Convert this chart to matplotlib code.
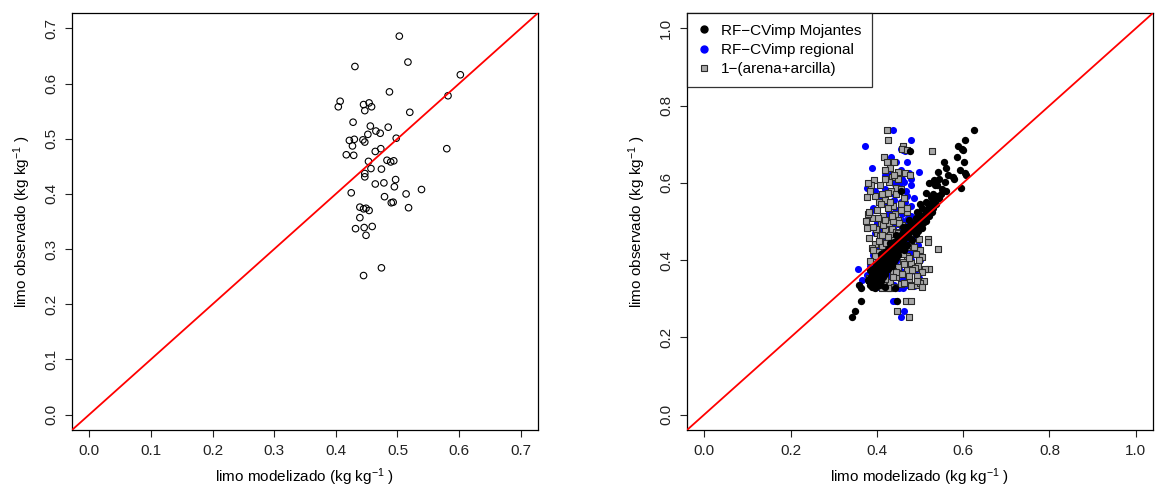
import matplotlib
matplotlib.use("Agg")
import matplotlib.pyplot as plt
from matplotlib.lines import Line2D

plt.rcParams['font.family'] = ['Liberation Sans', 'DejaVu Sans']
plt.rcParams['mathtext.default'] = 'regular'

# ---- Left panel: single model ----
left_x = [0.503, 0.517, 0.431, 0.602, 0.487, 0.582, 0.407, 0.404, 0.445, 0.454,
          0.458, 0.447, 0.520, 0.428, 0.456, 0.485, 0.465, 0.472, 0.452, 0.498,
          0.422, 0.430, 0.444, 0.447, 0.427, 0.473, 0.464, 0.580, 0.417, 0.429,
          0.483, 0.494, 0.489, 0.453, 0.457, 0.474, 0.447, 0.447, 0.497, 0.464,
          0.478, 0.495, 0.425, 0.514, 0.539, 0.479, 0.490, 0.493, 0.439, 0.445,
          0.449, 0.454, 0.518, 0.439, 0.432, 0.446, 0.459, 0.449, 0.474, 0.445]
left_y = [0.686, 0.639, 0.631, 0.616, 0.585, 0.578, 0.568, 0.558, 0.562, 0.565,
          0.558, 0.551, 0.548, 0.530, 0.523, 0.521, 0.514, 0.510, 0.508, 0.501,
          0.497, 0.499, 0.498, 0.494, 0.487, 0.482, 0.477, 0.482, 0.471, 0.470,
          0.461, 0.460, 0.458, 0.459, 0.446, 0.445, 0.437, 0.431, 0.426, 0.418,
          0.420, 0.413, 0.402, 0.400, 0.408, 0.395, 0.384, 0.385, 0.376, 0.373,
          0.374, 0.370, 0.375, 0.357, 0.337, 0.339, 0.341, 0.325, 0.266, 0.252]

# ---- Right panel: observed values shared by three predictions ----
y_obs = [0.252, 0.267, 0.294, 0.294, 0.327, 0.336, 0.327, 0.348, 0.376, 0.430,
         0.738, 0.712, 0.695, 0.689, 0.684, 0.682, 0.667, 0.655, 0.654, 0.639,
         0.633, 0.629, 0.626, 0.620, 0.615, 0.609, 0.607, 0.602, 0.594, 0.587,
         0.579, 0.564, 0.560, 0.555, 0.550, 0.545, 0.540, 0.535, 0.530, 0.525,
         0.520, 0.515, 0.510, 0.505, 0.500, 0.497, 0.494, 0.490, 0.487, 0.484,
         0.480, 0.477, 0.474, 0.471, 0.468, 0.465, 0.462, 0.458, 0.455, 0.452,
         0.449, 0.446, 0.443, 0.440, 0.437, 0.434, 0.431, 0.428, 0.425, 0.422,
         0.419, 0.416, 0.413, 0.410, 0.407, 0.404, 0.401, 0.398, 0.395, 0.392,
         0.389, 0.386, 0.383, 0.380, 0.377, 0.374, 0.371, 0.368, 0.365, 0.362,
         0.359, 0.356, 0.353, 0.350, 0.347, 0.344, 0.341, 0.338, 0.335, 0.332,
         0.330, 0.328, 0.570, 0.570, 0.550, 0.530, 0.520, 0.510, 0.500, 0.490,
         0.480, 0.470, 0.460, 0.450, 0.440, 0.430, 0.420, 0.410, 0.400, 0.390,
         0.380, 0.370, 0.360, 0.350, 0.340, 0.330, 0.335, 0.345, 0.355, 0.365,
         0.375, 0.385, 0.395, 0.405, 0.415, 0.425, 0.435, 0.445, 0.455, 0.465,
         0.475, 0.485, 0.495, 0.505, 0.515, 0.525, 0.535, 0.545, 0.565, 0.575,
         0.585, 0.595, 0.600, 0.610, 0.620, 0.580]

x_mojantes = [0.342, 0.349, 0.363, 0.446, 0.363, 0.358, 0.395, 0.380, 0.392, 0.440,
              0.624, 0.604, 0.587, 0.598, 0.600, 0.477, 0.586, 0.556, 0.601, 0.560,
              0.593, 0.542, 0.604, 0.606, 0.576, 0.579, 0.533, 0.558, 0.540, 0.596,
              0.560, 0.525, 0.545, 0.530, 0.515, 0.538, 0.520, 0.505, 0.512, 0.528,
              0.498, 0.508, 0.490, 0.500, 0.515, 0.485, 0.478, 0.492, 0.470, 0.505,
              0.465, 0.483, 0.460, 0.475, 0.490, 0.455, 0.470, 0.448, 0.463, 0.482,
              0.452, 0.440, 0.458, 0.470, 0.435, 0.450, 0.428, 0.445, 0.462, 0.420,
              0.438, 0.425, 0.448, 0.415, 0.432, 0.410, 0.428, 0.440, 0.405, 0.420,
              0.398, 0.435, 0.412, 0.395, 0.425, 0.402, 0.390, 0.415, 0.398, 0.388,
              0.405, 0.392, 0.385, 0.400, 0.382, 0.395, 0.388, 0.408, 0.383, 0.398,
              0.420, 0.442, 0.548, 0.530, 0.528, 0.520, 0.515, 0.505, 0.495, 0.485,
              0.478, 0.468, 0.462, 0.455, 0.448, 0.440, 0.432, 0.425, 0.420, 0.412,
              0.405, 0.400, 0.395, 0.390, 0.392, 0.388, 0.405, 0.410, 0.415, 0.420,
              0.385, 0.430, 0.425, 0.445, 0.410, 0.452, 0.465, 0.430, 0.478, 0.445,
              0.495, 0.460, 0.508, 0.475, 0.522, 0.492, 0.530, 0.500, 0.540, 0.515,
              0.550, 0.535, 0.520, 0.545, 0.565, 0.455]

x_regional = [0.455, 0.463, 0.437, 0.441, 0.452, 0.470, 0.410, 0.365, 0.357, 0.470,
              0.437, 0.479, 0.372, 0.455, 0.460, 0.465, 0.433, 0.471, 0.445, 0.389,
              0.455, 0.497, 0.475, 0.420, 0.440, 0.480, 0.430, 0.462, 0.452, 0.377,
              0.468, 0.410, 0.485, 0.440, 0.465, 0.420, 0.478, 0.392, 0.445, 0.385,
              0.458, 0.430, 0.472, 0.418, 0.460, 0.400, 0.448, 0.482, 0.425, 0.438,
              0.470, 0.412, 0.455, 0.395, 0.468, 0.432, 0.490, 0.420, 0.445, 0.475,
              0.405, 0.458, 0.430, 0.495, 0.418, 0.448, 0.400, 0.462, 0.427, 0.482,
              0.410, 0.452, 0.390, 0.440, 0.470, 0.422, 0.500, 0.445, 0.405, 0.460,
              0.430, 0.385, 0.475, 0.412, 0.452, 0.395, 0.488, 0.425, 0.440, 0.378,
              0.465, 0.418, 0.498, 0.430, 0.455, 0.392, 0.470, 0.420, 0.440, 0.485,
              0.405, 0.460, 0.445, 0.420, 0.455, 0.470, 0.440, 0.415, 0.452, 0.438,
              0.460, 0.425, 0.445, 0.480, 0.415, 0.438, 0.455, 0.425, 0.478, 0.440,
              0.418, 0.460, 0.432, 0.410, 0.475, 0.452, 0.430, 0.395, 0.462, 0.405,
              0.480, 0.425, 0.465, 0.400, 0.445, 0.418, 0.472, 0.435, 0.455, 0.490,
              0.440, 0.418, 0.465, 0.402, 0.478, 0.428, 0.455, 0.415, 0.470, 0.435,
              0.420, 0.480, 0.440, 0.458, 0.430, 0.395]

x_arena_arcilla = [0.475, 0.447, 0.467, 0.480, 0.431, 0.490, 0.412, 0.382, 0.520, 0.542,
                   0.423, 0.426, 0.461, 0.458, 0.470, 0.528, 0.416, 0.424, 0.440, 0.430,
                   0.418, 0.450, 0.465, 0.477, 0.435, 0.448, 0.393, 0.428, 0.386, 0.445,
                   0.432, 0.378, 0.463, 0.420, 0.405, 0.455, 0.437, 0.425, 0.400, 0.470,
                   0.442, 0.415, 0.392, 0.450, 0.374, 0.428, 0.410, 0.458, 0.385, 0.377,
                   0.436, 0.420, 0.445, 0.400, 0.462, 0.430, 0.408, 0.382, 0.518, 0.440,
                   0.425, 0.518, 0.395, 0.455, 0.412, 0.470, 0.388, 0.432, 0.500, 0.403,
                   0.448, 0.490, 0.418, 0.395, 0.505, 0.440, 0.498, 0.385, 0.460, 0.480,
                   0.413, 0.495, 0.450, 0.428, 0.512, 0.470, 0.438, 0.505, 0.458, 0.420,
                   0.492, 0.445, 0.382, 0.475, 0.510, 0.430, 0.500, 0.455, 0.395, 0.480,
                   0.440, 0.425, 0.412, 0.445, 0.430, 0.455, 0.380, 0.402, 0.438, 0.415,
                   0.398, 0.450, 0.425, 0.405, 0.478, 0.445, 0.418, 0.470, 0.432, 0.462,
                   0.488, 0.445, 0.475, 0.420, 0.462, 0.505, 0.415, 0.492, 0.437, 0.400,
                   0.482, 0.435, 0.408, 0.475, 0.460, 0.392, 0.485, 0.422, 0.498, 0.412,
                   0.467, 0.390, 0.452, 0.418, 0.435, 0.382, 0.470, 0.410, 0.395, 0.425,
                   0.455, 0.408, 0.380, 0.420, 0.440, 0.385]

n = min(len(y_obs), len(x_mojantes), len(x_regional), len(x_arena_arcilla))

series_labels = ["RF\u2212CVimp Mojantes", "RF\u2212CVimp regional", "1\u2212(arena+arcilla)"]
left_ticks = [0.0, 0.1, 0.2, 0.3, 0.4, 0.5, 0.6, 0.7]
right_ticks = [0.0, 0.2, 0.4, 0.6, 0.8, 1.0]
xlabel = "limo modelizado (kg kg$^{-1}$ )"
ylabel = "limo observado (kg kg$^{-1}$ )"

FS = 11
fig = plt.figure(figsize=(11.55, 4.86), dpi=100)

def style(ax, ticks, lim):
    ax.set_xlim(*lim)
    ax.set_ylim(*lim)
    ax.set_xticks(ticks)
    ax.set_yticks(ticks)
    ax.set_xticklabels([f"{t:.1f}" for t in ticks], fontsize=FS)
    ax.set_yticklabels([f"{t:.1f}" for t in ticks], fontsize=FS, rotation=90, va='center')
    ax.tick_params(direction='out', length=5, width=0.8, pad=5, colors='#222222')
    for s in ax.spines.values():
        s.set_linewidth(0.9)
        s.set_color('black')
    ax.set_xlabel(xlabel, fontsize=FS, labelpad=6)
    ax.set_ylabel(ylabel, fontsize=FS, labelpad=8)
    ax.plot(lim, lim, color='red', lw=1.3, zorder=5)

ax1 = fig.add_axes([72/1155, 1 - 430/486, 466/1155, 417/486])
ax1.scatter(left_x, left_y, s=22, facecolors='none', edgecolors='black', linewidths=0.8, zorder=3)
style(ax1, left_ticks, (-0.028, 0.728))

ax2 = fig.add_axes([687/1155, 1 - 430/486, 466/1155, 417/486])
ax2.scatter(x_regional[:n], y_obs[:n], s=26, color='#0000ff', linewidths=0, zorder=2)
ax2.scatter(x_arena_arcilla[:n], y_obs[:n], s=20, marker='s', facecolors='#a8a8a8',
            edgecolors='#2a2a2a', linewidths=0.8, zorder=3)
ax2.scatter(x_mojantes[:n], y_obs[:n], s=28, color='black', linewidths=0, zorder=4)
style(ax2, right_ticks, (-0.04, 1.04))

handles = [Line2D([], [], marker='o', ls='none', color='black', markersize=5),
           Line2D([], [], marker='o', ls='none', color='#0000ff', markersize=5),
           Line2D([], [], marker='s', ls='none', markerfacecolor='#a8a8a8',
                  markeredgecolor='#2a2a2a', markersize=4.5, markeredgewidth=0.8)]
leg = ax2.legend(handles, series_labels, loc='upper left', fontsize=FS, frameon=True,
                 fancybox=False, borderaxespad=0, handlelength=0.8, handletextpad=0.7,
                 labelspacing=0.35, borderpad=0.7)
leg.get_frame().set_edgecolor('black')
leg.get_frame().set_linewidth(0.9)
leg.set_zorder(10)

fig.savefig("out.png", dpi=100)
